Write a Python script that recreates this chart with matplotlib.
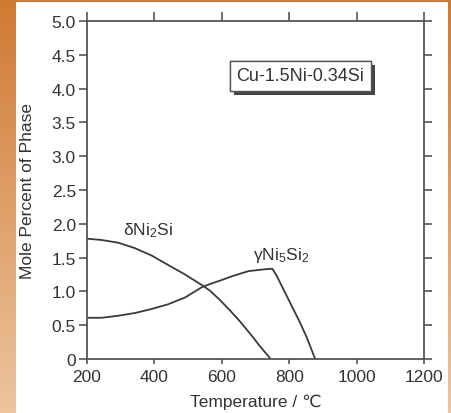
import numpy as np
import matplotlib
matplotlib.use("Agg")
import matplotlib.pyplot as plt
import matplotlib.patheffects as pe
from matplotlib.patches import Rectangle

plt.rcParams['font.family'] = ['Liberation Sans', 'DejaVu Sans']
plt.rcParams['mathtext.fontset'] = 'custom'
plt.rcParams['mathtext.rm'] = 'Liberation Sans'
plt.rcParams['mathtext.it'] = 'Liberation Sans'

# Phase fractions
temp_delta = [200, 244, 293, 342, 392, 441, 491, 545, 565, 595, 624, 654, 684, 713, 745]
delta_ni2si = [1.78, 1.76, 1.72, 1.64, 1.53, 1.39, 1.25, 1.08, 1.01, 0.87, 0.72, 0.555,
               0.375, 0.19, 0.0]

temp_gamma = [200, 244, 293, 342, 392, 441, 491, 540, 565, 595, 634, 679, 733, 750,
              763, 792, 812, 832, 852, 877]
gamma_ni5si2 = [0.61, 0.61, 0.64, 0.68, 0.74, 0.81, 0.91, 1.06, 1.11, 1.16, 1.23, 1.30,
                1.33, 1.335, 1.23, 0.94, 0.74, 0.54, 0.32, 0.0]

x_ticks = [200, 400, 600, 800, 1000, 1200]
y_ticks = [0, 0.5, 1.0, 1.5, 2.0, 2.5, 3.0, 3.5, 4.0, 4.5, 5.0]
y_labels = ['0', '0.5', '1.0', '1.5', '2.0', '2.5', '3.0', '3.5', '4.0', '4.5', '5.0']

fig = plt.figure(figsize=(4.52, 4.14), dpi=100)

# Orange gradient background with white panel on top
bg = fig.add_axes([0, 0, 1, 1], zorder=-10)
top = np.array([207, 122, 52]) / 255
bottom = np.array([236, 197, 160]) / 255
t = np.linspace(0, 1, 200)[:, None]
grad = top + (bottom - top) * t
bg.imshow(grad[:, None, :], aspect='auto', extent=[0, 1, 0, 1])
bg.add_patch(Rectangle((16 / 452, 0), (448 - 16) / 452, 1 - 3 / 414,
                       facecolor='white', edgecolor='none'))
bg.set_xlim(0, 1)
bg.set_ylim(0, 1)
bg.axis('off')

ax = fig.add_axes([87 / 452, 1 - 360 / 414, (424 - 87) / 452, (360 - 22) / 414])
ax.patch.set_alpha(0)

line_color = '#3a3a3a'
ax.plot(temp_delta, delta_ni2si, color=line_color, lw=1.3)
ax.plot(temp_gamma, gamma_ni5si2, color=line_color, lw=1.3)

ax.set_xlim(200, 1200)
ax.set_ylim(0, 5)
ax.set_xticks(x_ticks)
ax.set_yticks(y_ticks)
ax.set_yticklabels(y_labels)

spine_color = '#555555'
for s in ax.spines.values():
    s.set_color(spine_color)
    s.set_linewidth(1.3)
ax.tick_params(direction='out', length=6, width=1.2, color=spine_color,
               labelsize=12.5, labelcolor='#333333', pad=2,
               top=True, right=True, labeltop=False, labelright=False)
ax.tick_params(axis='x', pad=1)
# shorter ticks along the bottom edge
for tk in ax.xaxis.get_major_ticks():
    tk.tick1line.set_markersize(3.5)
    tk.tick2line.set_markersize(6.5)

ax.set_xlabel('Temperature / ℃', fontsize=12.5, color='#333333')
ax.set_ylabel('Mole Percent of Phase', fontsize=12.5, color='#333333')
ax.xaxis.set_label_coords(0.5, -0.102)
ax.yaxis.set_label_coords(-0.155, 0.5)

ax.text(380, 1.92, r'δNi$_2$Si', fontsize=12.5, ha='center', va='center', color='#333333')
ax.text(775, 1.54, r'γNi$_5$Si$_2$', fontsize=12.5, ha='center', va='center', color='#333333')

box = ax.text(833, 4.19, 'Cu-1.5Ni-0.34Si', fontsize=13, ha='center', va='center',
              color='#333333',
              bbox=dict(boxstyle='square,pad=0.35', facecolor='white',
                        edgecolor='#555555', linewidth=1.0))
box.get_bbox_patch().set_path_effects([
    pe.withSimplePatchShadow(offset=(3, -3), shadow_rgbFace='#444444', alpha=1.0),
    pe.Normal()])

fig.savefig('out.png', dpi=100)
